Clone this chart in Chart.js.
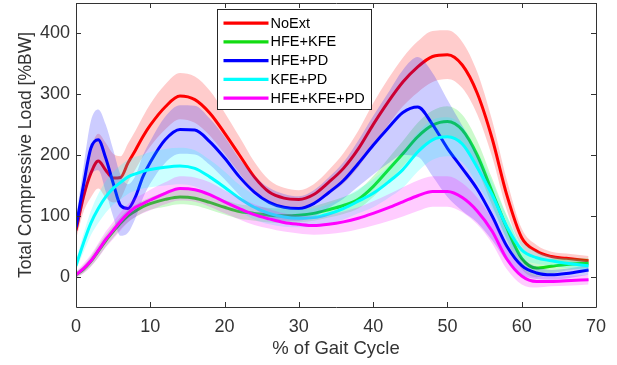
<!DOCTYPE html>
<html>
<head>
<meta charset="utf-8">
<script src="https://cdn.jsdelivr.net/npm/chart.js@4.4.0/dist/chart.umd.min.js"></script>
<style>
  html, body { margin: 0; padding: 0; background: #ffffff; }
  #wrap { position: relative; width: 617px; height: 365px; }
</style>
</head>
<body>
<div id="wrap"><canvas id="c" width="617" height="365"></canvas></div>
<script>
// ---- data ----
const gaitPct = [0,1,2,3,4,5,6,7,8,9,10,12,14,16,18,20,22,24,26,28,30,32,34,36,38,40,42,44,46,48,50,52,54,56,58,60,62,64,66,69];

const seriesNames = ["NoExt", "HFE+KFE", "HFE+PD", "KFE+PD", "HFE+KFE+PD"];

const noExt      = [76,131,170,190,175,162,163,187,208,230,249,279,297,291,269,236,200,164,139,129,127,135,155,178,210,250,287,320,345,362,365,348,302,228,134,64,42,33,30,26];
const noExtSd    = [15,25,40,45,45,40,35,32,32,33,35,37,38,38,37,34,30,25,20,17,15,17,20,25,30,35,38,40,42,42,40,38,35,30,25,15,10,8,8,8];

const hfeKfe     = [3,12,25,42,59,74,88,100,108,115,120,127,131,129,122,114,107,104,101,100,101,104,110,117,127,148,175,202,230,249,255,241,200,140,80,30,14,17,20,22];
const hfeKfeSd   = [5,6,8,10,10,10,10,10,10,10,10,12,12,12,12,12,12,12,12,12,12,12,13,14,15,17,19,21,23,24,25,25,24,22,20,18,15,12,10,8];

const hfePd      = [81,150,211,225,195,154,117,112,131,164,188,225,242,241,222,195,164,139,122,114,112,120,138,158,186,216,244,270,279,250,211,178,144,100,50,18,6,3,5,11];
const hfePdSd    = [15,30,45,50,55,55,50,40,35,35,35,38,40,40,38,35,30,27,24,22,20,22,25,30,38,48,58,70,82,85,80,70,55,40,25,15,10,8,8,8];

const kfePd      = [18,55,88,112,131,145,155,164,169,173,176,180,182,178,164,147,129,114,104,98,96,97,103,112,124,137,155,176,205,225,230,218,180,135,82,44,31,26,22,18];
const kfePdSd    = [8,15,20,24,26,27,28,28,28,28,29,30,30,30,28,26,22,20,18,16,15,15,16,18,20,23,26,30,32,33,32,30,27,22,18,14,10,8,8,8];

const hfeKfePd   = [3,13,26,43,61,76,91,104,114,120,126,137,145,143,135,123,112,102,95,89,86,84,86,90,96,104,113,123,133,140,140,130,108,75,29,1,-8,-8,-7,-5];
const hfeKfePdSd = [5,8,10,12,13,14,15,15,16,16,17,18,20,20,20,19,18,17,16,15,15,15,16,17,18,20,22,24,25,25,25,24,22,20,17,14,10,8,8,8];

const xTicks = [0,10,20,30,40,50,60,70];
const yTicks = [0,100,200,300,400];

// ---- styling ----
const lineColors = ["#ff0000", "#12dc12", "#0000ff", "#00ffff", "#ff00ff"];
const bandColors = ["rgba(255,0,0,0.2)", "rgba(0,230,0,0.2)", "rgba(0,0,255,0.2)", "rgba(0,255,255,0.2)", "rgba(255,0,255,0.2)"];
const means = [noExt, hfeKfe, hfePd, kfePd, hfeKfePd];
const sds = [noExtSd, hfeKfeSd, hfePdSd, kfePdSd, hfeKfePdSd];

function pts(arr) { return gaitPct.map((x, i) => ({ x: x, y: arr[i] })); }

const datasets = [];
means.forEach((m, s) => {
  const up = m.map((v, i) => v + sds[s][i]);
  const lo = m.map((v, i) => v - sds[s][i]);
  const base = 20 - s * 3;
  datasets.push({ label: "_band", data: pts(up), borderWidth: 0, pointRadius: 0,
    backgroundColor: bandColors[s], fill: "+1", order: base, cubicInterpolationMode: "monotone" });
  datasets.push({ label: "_band", data: pts(lo), borderWidth: 0, pointRadius: 0,
    fill: false, order: base, cubicInterpolationMode: "monotone" });
  datasets.push({ label: seriesNames[s], data: pts(m), borderColor: lineColors[s], borderWidth: 3,
    pointRadius: 0, fill: false, order: base - 1, cubicInterpolationMode: "monotone" });
});

const axisColor = "#333333";
const fontFam = "'Liberation Sans', Arial, Helvetica, sans-serif";

const boxPlugin = {
  id: "matlabBox",
  afterDatasetsDraw(chart) {
    const { ctx, chartArea: a, scales } = chart;
    ctx.save();
    ctx.strokeStyle = axisColor;
    ctx.lineWidth = 1;
    ctx.beginPath();
    ctx.rect(Math.round(a.left) + 0.5, Math.round(a.top) + 0.5, Math.round(a.right - a.left), Math.round(a.bottom - a.top));
    ctx.stroke();
    ctx.beginPath();
    xTicks.forEach(v => {
      const px = Math.round(scales.x.getPixelForValue(v)) + 0.5;
      ctx.moveTo(px, a.bottom); ctx.lineTo(px, a.bottom - 5);
      ctx.moveTo(px, a.top); ctx.lineTo(px, a.top + 5);
    });
    yTicks.forEach(v => {
      const py = Math.round(scales.y.getPixelForValue(v)) + 0.5;
      ctx.moveTo(a.left, py); ctx.lineTo(a.left + 5, py);
      ctx.moveTo(a.right, py); ctx.lineTo(a.right - 5, py);
    });
    ctx.stroke();
    ctx.restore();
  },
  afterDraw(chart) {
    const { ctx, chartArea: a } = chart;
    const bx = Math.round(a.left + 141) + 0.5, by = Math.round(a.top + 6) + 0.5;
    const bw = 154, bh = 100;
    ctx.save();
    ctx.fillStyle = "#ffffff";
    ctx.fillRect(bx, by, bw, bh);
    ctx.strokeStyle = "#262626";
    ctx.lineWidth = 1;
    ctx.strokeRect(bx, by, bw, bh);
    ctx.font = "14.5px " + fontFam;
    ctx.textBaseline = "middle";
    ctx.textAlign = "left";
    seriesNames.forEach((n, i) => {
      const y = by + 13.7 + i * 18.75;
      ctx.strokeStyle = lineColors[i];
      ctx.lineWidth = 3.2;
      ctx.beginPath();
      ctx.moveTo(bx + 6, y); ctx.lineTo(bx + 51, y);
      ctx.stroke();
      ctx.fillStyle = "#000000";
      ctx.fillText(n, bx + 53, y + 0.5);
    });
    ctx.restore();
  }
};

new Chart(document.getElementById("c"), {
  type: "line",
  data: { datasets: datasets },
  plugins: [boxPlugin],
  options: {
    responsive: false,
    devicePixelRatio: 1,
    animation: false,
    layout: { padding: { left: 0, right: 21, top: 3, bottom: 0 } },
    plugins: { legend: { display: false }, tooltip: { enabled: false } },
    scales: {
      x: {
        type: "linear", min: 0, max: 70,
        afterBuildTicks(scale) { scale.ticks = xTicks.map(v => ({ value: v })); },
        afterFit(scale) { scale.height = 58; scale.paddingLeft = 0; scale.paddingRight = 0; },
        grid: { display: false, drawTicks: false },
        border: { display: false },
        ticks: { padding: 9, color: axisColor, font: { family: fontFam, size: 18 }, maxRotation: 0 },
        title: { display: true, text: "% of Gait Cycle", color: axisColor,
          font: { family: fontFam, size: 18.5 }, padding: { top: 0, bottom: 5 } }
      },
      y: {
        type: "linear", min: -50, max: 450,
        afterBuildTicks(scale) { scale.ticks = yTicks.map(v => ({ value: v })); },
        afterFit(scale) { scale.width = 76; scale.paddingTop = 0; scale.paddingBottom = 0; },
        grid: { display: false, drawTicks: false },
        border: { display: false },
        ticks: { padding: 6, color: axisColor, font: { family: fontFam, size: 18 } },
        title: { display: true, text: "Total Compressive Load [%BW]", color: axisColor,
          font: { family: fontFam, size: 17.5 }, padding: { top: 16, bottom: 0 } }
      }
    }
  }
});
</script>
</body>
</html>
